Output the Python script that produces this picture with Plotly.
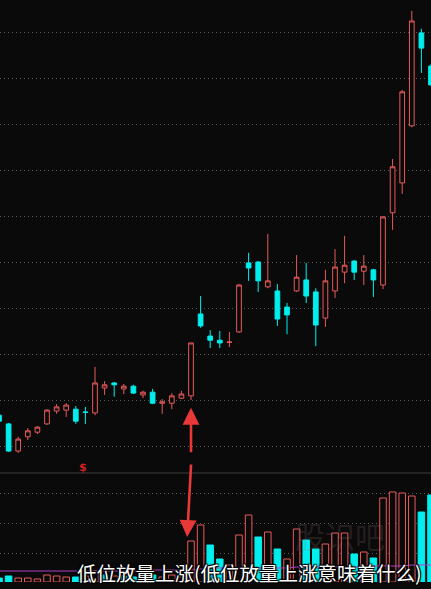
import plotly.graph_objects as go

# ---- data ----
idx = list(range(46))
open_ = [10.67, 10.48, 9.89, 10.20, 10.30, 10.48, 10.76, 10.78, 10.80, 10.74,
         10.72, 11.26, 11.37, 11.24, 11.30, 11.11, 11.17, 10.93, 10.93, 11.04,
         11.09, 12.87, 12.39, 12.30, 12.25, 12.48, 13.98, 14.00, 13.46, 13.37,
         13.02, 13.37, 13.61, 13.35, 12.78, 13.37, 13.78, 14.02, 13.80, 13.83,
         13.50, 15.07, 15.72, 16.96, 18.98, 18.26]
high_ = [10.70, 10.50, 10.20, 10.39, 10.43, 10.80, 10.91, 10.93, 10.87, 10.85,
         11.72, 11.41, 11.39, 11.35, 11.33, 11.20, 11.24, 11.02, 11.15, 11.20,
         12.24, 13.26, 12.52, 12.50, 12.48, 13.52, 14.20, 14.02, 14.61, 13.52,
         13.11, 14.15, 13.98, 13.43, 13.83, 14.28, 14.57, 14.04, 14.15, 13.85,
         15.00, 16.24, 17.74, 19.46, 19.07, 18.30]
low_ = [10.52, 9.87, 9.85, 10.13, 10.26, 10.46, 10.70, 10.63, 10.48, 10.48,
        10.67, 11.11, 11.07, 11.13, 11.13, 11.04, 10.91, 10.70, 10.80, 11.02,
        11.00, 12.57, 12.13, 12.13, 12.15, 12.46, 13.59, 13.35, 13.43, 12.61,
        12.43, 13.35, 13.11, 12.17, 12.59, 13.22, 13.54, 13.61, 13.50, 13.24,
        13.41, 14.70, 15.48, 16.93, 18.11, 17.83]
close_ = [10.54, 9.89, 10.15, 10.33, 10.41, 10.78, 10.85, 10.89, 10.54, 10.73,
          11.37, 11.33, 11.33, 11.30, 11.15, 11.17, 10.93, 10.96, 11.09, 11.13,
          12.24, 12.61, 12.30, 12.24, 12.26, 13.50, 13.87, 13.59, 13.59, 12.76,
          12.85, 13.67, 13.26, 12.63, 13.59, 13.89, 13.93, 13.78, 13.91, 13.61,
          14.98, 16.07, 17.70, 19.24, 18.65, 17.85]
volume = [400, 600, 400, 400, 300, 700, 600, 500, 500, 600,
          1100, 700, 600, 600, 500, 500, 700, 500, 700, 500,
          4100, 5700, 3700, 2300, 1700, 4700, 6700, 4500, 5000, 3300,
          2300, 5300, 4200, 3300, 3800, 4900, 4900, 2800, 3000, 2400,
          8400, 9000, 8900, 8600, 7000, 8700]
vol_ma = [1100, 1100, 1100, 1100, 1100, 1100, 1100, 1100, 1100, 1100,
          1100, 1100, 1100, 1100, 1100, 1100, 1200, 1200, 1200, 1200,
          1200, 1300, 1400, 1400, 1400, 1400, 1400, 1400, 1400, 1400,
          1400, 1500, 1500, 1500, 1500, 1500, 1500, 1500, 1500, 1600,
          1600, 1600, 1600, 1700, 1700, 1700]
title_text = "低位放量上涨(低位放量上涨意味着什么)"

BG = "#0a0a0a"
RED = "#e85a5a"
CYAN = "#00eeee"

# volume colour: red when close >= previous close
vol_fill, vol_line = [], []
for i in idx:
    prev = close_[i - 1] if i > 0 else open_[i]
    up = close_[i] >= prev
    vol_fill.append(BG if up else CYAN)
    vol_line.append(RED if up else CYAN)

fig = go.Figure()
fig.add_trace(go.Candlestick(
    x=idx, open=open_, high=high_, low=low_, close=close_,
    increasing=dict(line=dict(color=RED, width=1), fillcolor=BG),
    decreasing=dict(line=dict(color=CYAN, width=1), fillcolor=CYAN),
    whiskerwidth=0, showlegend=False, hoverinfo="skip",
    xaxis="x", yaxis="y"))
fig.add_trace(go.Bar(
    x=idx, y=volume, width=0.68,
    marker=dict(color=vol_fill, line=dict(color=vol_line, width=1)),
    showlegend=False, hoverinfo="skip", xaxis="x", yaxis="y2"))
fig.add_trace(go.Scatter(
    x=idx, y=vol_ma, mode="lines", line=dict(color="#b040c8", width=1),
    showlegend=False, hoverinfo="skip", xaxis="x", yaxis="y2"))

split = 109 / 582

fig.update_layout(
    width=431, height=589,
    margin=dict(l=0, r=0, t=0, b=7),
    paper_bgcolor=BG, plot_bgcolor=BG,
    xaxis=dict(range=[0.104, 45.0], showgrid=False, zeroline=False,
               showticklabels=False, rangeslider=dict(visible=False),
               anchor="y2"),
    yaxis=dict(domain=[split, 1], range=[9.413, 19.696], tick0=10, dtick=1,
               showgrid=True, gridcolor="#5a5a5a", griddash="1px,3px",
               gridwidth=1, zeroline=False, showticklabels=False),
    yaxis2=dict(domain=[0, split], range=[0, 10900], tick0=2900, dtick=3000,
                showgrid=True, gridcolor="#5a5a5a", griddash="1px,3px",
                gridwidth=1, zeroline=False, showticklabels=False),
    shapes=[dict(type="line", xref="paper", yref="paper", x0=0, x1=1,
                 y0=split, y1=split, line=dict(color="#3c3c3c", width=1))],
    annotations=[
        # watermark
        dict(text="股识吧", xref="paper", yref="paper", x=340 / 431,
             y=(582 - 535) / 582, xanchor="center", yanchor="middle",
             showarrow=False,
             font=dict(family="Noto Sans CJK SC", size=30,
                       color="rgba(150,120,120,0.2)")),
        # S marker
        dict(text="<b>$</b>", x=8.75, y=9.54, xref="x", yref="y",
             showarrow=False, font=dict(family="DejaVu Sans", size=11, color="#d02020")),
        # up arrow (to price)
        dict(x=20, y=10.83, xref="x", yref="y", ax=0, ay=46, text="",
             showarrow=True, arrowhead=2, arrowsize=1.3, arrowwidth=2.6,
             arrowcolor="#e83838"),
        # down arrow (to volume)
        dict(x=19.6, y=4500, xref="x", yref="y2", ax=4, ay=-74, text="",
             showarrow=True, arrowhead=2, arrowsize=1.3, arrowwidth=2.6,
             arrowcolor="#e83838"),
        # caption
        dict(text=title_text, xref="paper", yref="paper", x=75 / 431,
             y=(582 - 572) / 582, xanchor="left", yanchor="middle",
             showarrow=False,
             font=dict(family="Noto Sans CJK SC", size=19.5, color="white",
                       shadow="1px 1px 1px #000, -1px -1px 1px #000, 1px -1px 1px #000, -1px 1px 1px #000")),
    ],
)

fig.write_html("out.html", config={"displayModeBar": False},
               post_script="document.body.style.margin='0';document.body.style.overflow='hidden';")
